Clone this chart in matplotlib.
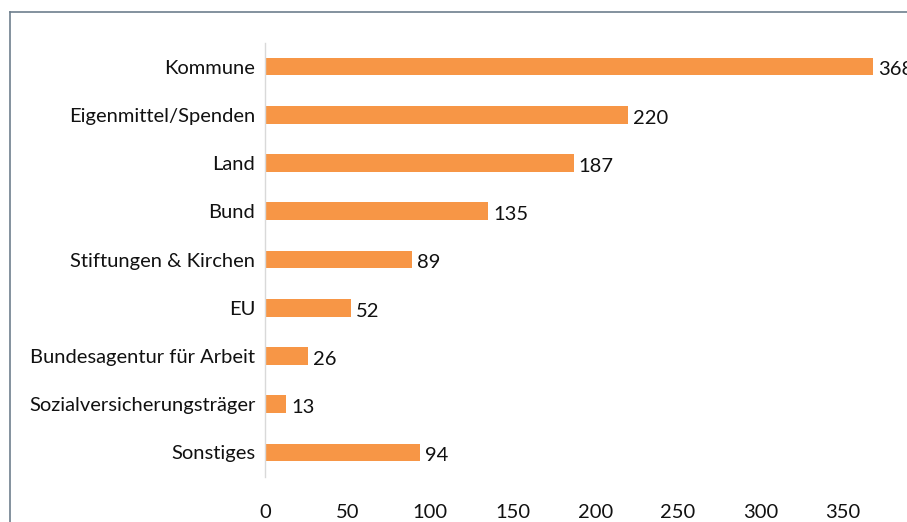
import matplotlib
matplotlib.use("Agg")
import matplotlib.pyplot as plt
from matplotlib.lines import Line2D

categories = ["Kommune", "Eigenmittel/Spenden", "Land", "Bund", "Stiftungen & Kirchen",
              "EU", "Bundesagentur für Arbeit", "Sozialversicherungsträger", "Sonstiges"]
values = [368, 220, 187, 135, 89, 52, 26, 13, 94]
xticks = [0, 50, 100, 150, 200, 250, 300, 350]

plt.rcParams['font.family'] = ['Lato', 'DejaVu Sans']
fs = 14.5

W, H = 907, 522
fig = plt.figure(figsize=(W / 100, H / 100), dpi=100)

# axes: x=0 at 265px, 350 at 843px; rows span y 42..476px
x0, x1 = 265, W
y_top, y_bot = 42.5, 476.5
ax = fig.add_axes([x0 / W, (H - y_bot) / H, (x1 - x0) / W, (y_bot - y_top) / H])

scale = (843 - 265) / 350
ypos = list(range(len(categories)))
ax.barh(ypos, values, height=0.367, color="#F79646")
ax.set_ylim(len(categories) - 0.5, -0.5)
ax.set_xlim(0, (x1 - x0) / scale)

for y, v in zip(ypos, values):
    ax.text(v + 3, y + 0.07, str(v), va="center", ha="left", fontsize=fs, color="#111111")

ax.set_yticks(ypos)
ax.set_yticklabels(categories, fontsize=fs, color="#111111")
ax.set_xticks(xticks)
ax.set_xticklabels([str(t) for t in xticks], fontsize=fs, color="#111111")
ax.tick_params(axis="both", length=0)
ax.tick_params(axis="y", pad=7)
ax.tick_params(axis="x", pad=20)

for s in ["top", "right", "bottom"]:
    ax.spines[s].set_visible(False)
ax.spines["left"].set_color("#D9D9D9")
ax.spines["left"].set_linewidth(1)

# outer frame (partly cropped)
fc = "#6E7F8D"
fig.add_artist(Line2D([10 / W, 10 / W], [0, (H - 12) / H], color=fc, lw=1.2, transform=fig.transFigure))
fig.add_artist(Line2D([10 / W, 1], [(H - 12) / H, (H - 12) / H], color=fc, lw=1.2, transform=fig.transFigure))

fig.savefig("out.png", dpi=100)
